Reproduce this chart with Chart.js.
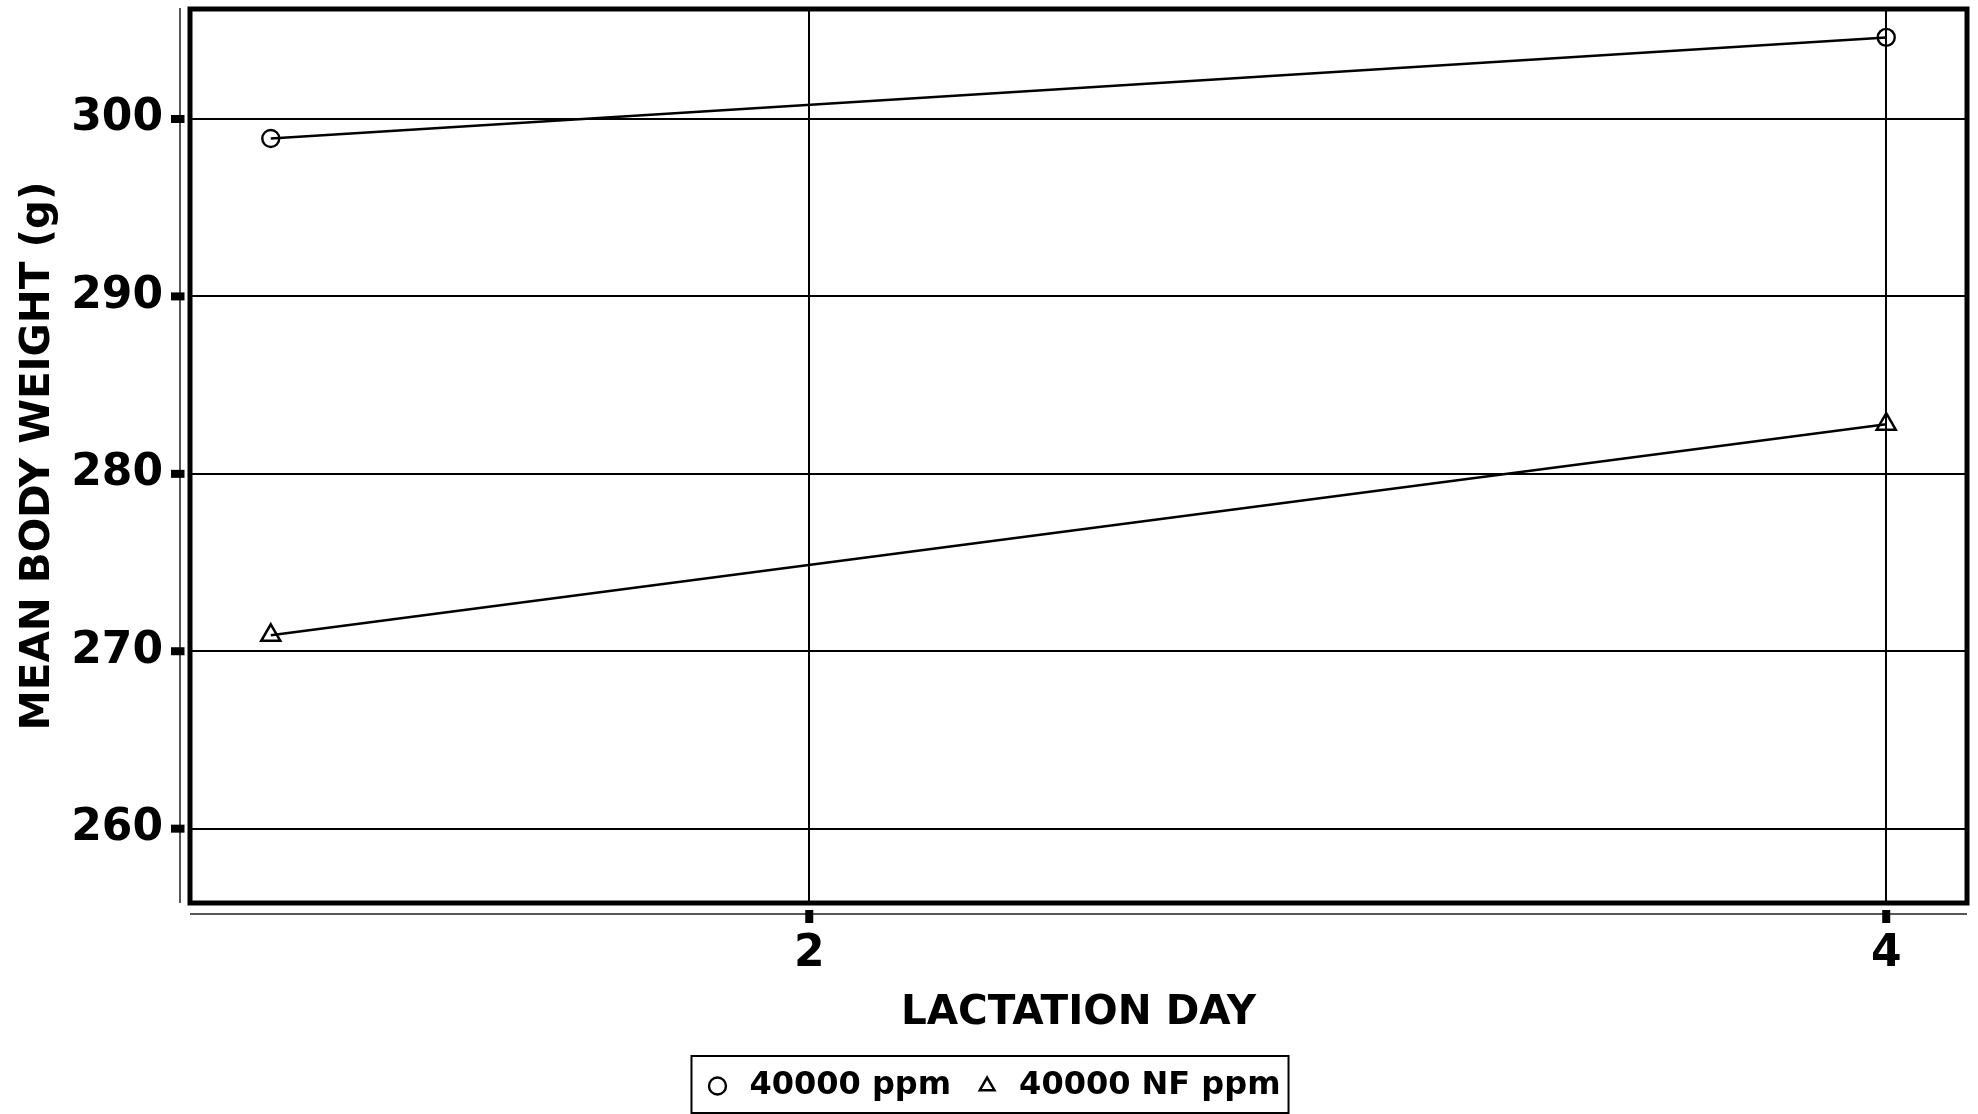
<!DOCTYPE html>
<html>
<head>
<meta charset="utf-8">
<script src="https://cdn.jsdelivr.net/npm/chart.js@4"></script>
<style>
  html, body { margin: 0; padding: 0; background: #fff; }
  canvas { display: block; }
</style>
</head>
<body>
<canvas id="chart" width="1978" height="1114"></canvas>
<script>
// === DATA ===
const lactationDays = [1, 4];
const weight40000 = [298.9, 304.6];
const weight40000NF = [270.9, 282.8];
const seriesNames = ['40000 ppm', '40000 NF ppm'];
const xTickValues = [2, 4];
const yTickValues = [260, 270, 280, 290, 300];

const FONT = 'DejaVu Sans';

function toPoints(values) {
    return lactationDays.map((d, i) => ({ x: d, y: values[i] }));
}

// frame, separate thin axis lines, tick dashes, legend box
const framePlugin = {
    id: 'frame',
    afterDatasetsDraw(chart) {
        const { ctx, chartArea: a, scales } = chart;
        ctx.save();
        ctx.strokeStyle = '#000';

        // thick box round the plot
        ctx.lineWidth = 5;
        ctx.strokeRect(a.left, a.top, a.right - a.left, a.bottom - a.top);

        // thin detached axis lines
        ctx.lineWidth = 1.5;
        ctx.strokeStyle = '#222';
        ctx.beginPath();
        ctx.moveTo(a.left - 10, a.top - 1);
        ctx.lineTo(a.left - 10, a.bottom);
        ctx.moveTo(a.left, a.bottom + 11);
        ctx.lineTo(a.right, a.bottom + 11);
        ctx.stroke();

        // short heavy tick dashes across the thin lines
        ctx.fillStyle = '#000';
        yTickValues.forEach(v => {
            const py = scales.y.getPixelForValue(v);
            ctx.fillRect(a.left - 19, py - 4, 13.5, 8);
        });
        xTickValues.forEach(v => {
            const px = scales.x.getPixelForValue(v);
            ctx.fillRect(px - 4, a.bottom + 7, 8, 13);
        });
        ctx.restore();
    },
    afterDraw(chart) {
        const legend = chart.legend;
        const boxes = legend && legend.legendHitBoxes;
        if (!boxes || !boxes.length) return;
        const first = boxes[0];
        const last = boxes[boxes.length - 1];
        const midY = first.top + first.height / 2;
        const ctx = chart.ctx;
        ctx.save();
        ctx.strokeStyle = '#000';
        ctx.lineWidth = 2;
        ctx.strokeRect(first.left - 10, midY - 30, (last.left + last.width + 8) - (first.left - 10), 57);
        ctx.restore();
    }
};

// keep the plot box where the reference has it: no extra room for edge labels
function noEdgePadding(scale) {
    scale.paddingTop = 0;
    scale.paddingBottom = 0;
    scale.paddingLeft = 0;
    scale.paddingRight = 0;
}

const ctx = document.getElementById('chart').getContext('2d');

new Chart(ctx, {
    type: 'line',
    data: {
        datasets: [
            {
                label: seriesNames[0],
                data: toPoints(weight40000),
                borderColor: '#000',
                backgroundColor: 'rgba(0,0,0,0)',
                borderWidth: 2.5,
                pointStyle: 'circle',
                pointRadius: 8.5,
                pointBorderWidth: 2.4,
                pointBackgroundColor: 'rgba(0,0,0,0)',
                pointBorderColor: '#000',
                tension: 0
            },
            {
                label: seriesNames[1],
                data: toPoints(weight40000NF),
                borderColor: '#000',
                backgroundColor: 'rgba(0,0,0,0)',
                borderWidth: 2.5,
                pointStyle: 'triangle',
                pointRadius: 11,
                pointBorderWidth: 2.5,
                pointBackgroundColor: 'rgba(0,0,0,0)',
                pointBorderColor: '#000',
                tension: 0
            }
        ]
    },
    options: {
        responsive: false,
        devicePixelRatio: 1,
        animation: false,
        layout: {
            autoPadding: false,
            padding: { left: 15, top: 9, right: 11, bottom: 2 }
        },
        plugins: {
            tooltip: { enabled: false },
            legend: {
                position: 'bottom',
                labels: {
                    usePointStyle: true,
                    boxWidth: 32,
                    boxHeight: 12,
                    padding: 20,
                    color: '#000',
                    font: { family: FONT, size: 32, weight: 'bold' }
                }
            }
        },
        scales: {
            x: {
                type: 'linear',
                min: 0.85,
                max: 4.15,
                afterBuildTicks: scale => { scale.ticks = xTickValues.map(v => ({ value: v })); },
                afterFit: scale => { scale.height = 147; noEdgePadding(scale); },
                border: { display: false },
                grid: { color: '#000', lineWidth: 2, drawTicks: false },
                ticks: {
                    padding: 25,
                    color: '#000',
                    maxRotation: 0,
                    font: { family: FONT, size: 44, weight: 'bold' }
                },
                title: {
                    display: true,
                    text: 'LACTATION DAY',
                    color: '#000',
                    padding: { top: 0, bottom: 12 },
                    font: { family: FONT, size: 40.5, weight: 'bold' }
                }
            },
            y: {
                type: 'linear',
                min: 255.81,
                max: 306.2,
                afterBuildTicks: scale => { scale.ticks = yTickValues.map(v => ({ value: v })); },
                afterFit: scale => { scale.width = 175; noEdgePadding(scale); },
                border: { display: false },
                grid: { color: '#000', lineWidth: 2, drawTicks: false },
                ticks: {
                    padding: 27,
                    color: '#000',
                    font: { family: FONT, size: 44, weight: 'bold' }
                },
                title: {
                    display: true,
                    text: 'MEAN BODY WEIGHT (g)',
                    color: '#000',
                    padding: { top: -1, bottom: 0 },
                    font: { family: FONT, size: 40.5, weight: 'bold' }
                }
            }
        }
    },
    plugins: [framePlugin]
});
</script>
</body>
</html>
